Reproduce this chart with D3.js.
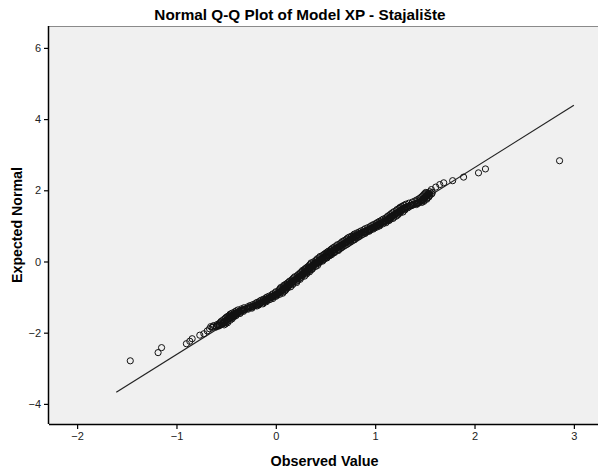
<!DOCTYPE html>
<html>
<head>
<meta charset="utf-8">
<script src="https://cdn.jsdelivr.net/npm/d3@7"></script>
<style>
  html, body { margin: 0; padding: 0; background: #fff; }
  svg { display: block; }
</style>
</head>
<body>
<svg id="chart" width="598" height="475"></svg>
<script>
// ---- Data ----
const chartTitle = "Normal Q-Q Plot of Model XP - Stajalište";
const xLabel = "Observed Value";
const yLabel = "Expected Normal";
const xTicks = [-2, -1, 0, 1, 2, 3];
const yTicks = [-4, -2, 0, 2, 4, 6];

// tail points (observed, expected)
const tailObserved = [-1.465, -1.185, -1.15, -0.90, -0.866, -0.842, -0.765, -0.724, -0.69, -0.667,
  1.566, 1.61, 1.65, 1.69, 1.78, 1.89, 2.04, 2.11, 2.856];
const tailExpected = [-2.79, -2.56, -2.42, -2.31, -2.24, -2.17, -2.07, -2.03, -1.95, -1.89,
  2.02, 2.09, 2.16, 2.21, 2.27, 2.37, 2.49, 2.60, 2.83];

// dense central band, group A
const observedA = [
  -0.64, -0.60, -0.57, -0.54, -0.53, -0.52, -0.50, -0.49, -0.47, -0.46,
  -0.44, -0.43, -0.41, -0.39, -0.37, -0.35, -0.32, -0.29, -0.26, -0.23,
  -0.20, -0.18, -0.16, -0.14, -0.12, -0.10, -0.08, -0.06, -0.04, -0.02,
  0.00, 0.02, 0.03, 0.05, 0.06, 0.07, 0.08, 0.10, 0.11, 0.13,
  0.14, 0.16, 0.17, 0.18, 0.20, 0.21, 0.22, 0.24, 0.25, 0.27,
  0.28, 0.29, 0.30, 0.32, 0.33, 0.34, 0.36, 0.37, 0.38, 0.39,
  0.41, 0.42, 0.44, 0.45, 0.47, 0.48, 0.50, 0.51, 0.53, 0.55,
  0.56, 0.58, 0.59, 0.61, 0.62, 0.64, 0.66, 0.67, 0.69, 0.71,
  0.72, 0.74, 0.755, 0.77, 0.79, 0.81, 0.83, 0.85, 0.87, 0.90,
  0.92, 0.94, 0.96, 0.98, 1.00, 1.02, 1.04, 1.06, 1.08, 1.10,
  1.12, 1.14, 1.15, 1.17, 1.18, 1.20, 1.21, 1.23, 1.24, 1.26,
  1.27, 1.29, 1.31, 1.34, 1.37, 1.40, 1.43, 1.45, 1.47, 1.48,
  1.49, 1.50, 1.51, 1.52, 1.53, 1.54, 1.55
];
const expectedA = [
  -1.85, -1.82, -1.79, -1.76, -1.73, -1.70, -1.66, -1.62, -1.59, -1.56,
  -1.53, -1.50, -1.47, -1.44, -1.41, -1.38, -1.35, -1.32, -1.29, -1.26,
  -1.23, -1.20, -1.17, -1.14, -1.11, -1.08, -1.05, -1.02, -0.99, -0.96,
  -0.93, -0.90, -0.87, -0.84, -0.81, -0.78, -0.75, -0.72, -0.69, -0.66,
  -0.63, -0.60, -0.57, -0.54, -0.51, -0.48, -0.45, -0.42, -0.39, -0.36,
  -0.33, -0.30, -0.27, -0.24, -0.21, -0.18, -0.15, -0.12, -0.09, -0.06,
  -0.03, 0.00, 0.03, 0.06, 0.09, 0.12, 0.15, 0.18, 0.21, 0.24,
  0.27, 0.30, 0.33, 0.36, 0.39, 0.42, 0.45, 0.48, 0.51, 0.54,
  0.57, 0.60, 0.63, 0.66, 0.69, 0.72, 0.75, 0.78, 0.81, 0.84,
  0.87, 0.90, 0.93, 0.96, 0.99, 1.02, 1.05, 1.08, 1.11, 1.14,
  1.17, 1.20, 1.23, 1.26, 1.29, 1.32, 1.35, 1.38, 1.41, 1.44,
  1.47, 1.50, 1.53, 1.56, 1.59, 1.62, 1.65, 1.68, 1.71, 1.74,
  1.77, 1.80, 1.83, 1.86, 1.89, 1.92, 1.96
];

// dense central band, group B
const observedB = [
  -0.60, -0.57, -0.52, -0.505, -0.485, -0.49, -0.46, -0.44, -0.445, -0.42,
  -0.40, -0.40, -0.36, -0.355, -0.325, -0.32, -0.28, -0.24, -0.235, -0.19,
  -0.17, -0.13, -0.125, -0.095, -0.09, -0.06, -0.03, -0.035, 0.00, 0.015,
  0.04, 0.07, 0.065, 0.09, 0.10, 0.10, 0.12, 0.15, 0.135, 0.17,
  0.17, 0.21, 0.205, 0.22, 0.245, 0.24, 0.26, 0.29, 0.275, 0.31,
  0.31, 0.34, 0.335, 0.36, 0.37, 0.37, 0.40, 0.42, 0.405, 0.43,
  0.44, 0.47, 0.475, 0.49, 0.515, 0.51, 0.54, 0.56, 0.555, 0.59,
  0.59, 0.63, 0.625, 0.65, 0.665, 0.67, 0.70, 0.72, 0.705, 0.75,
  0.75, 0.79, 0.79, 0.81, 0.835, 0.84, 0.87, 0.90, 0.895, 0.94,
  0.95, 0.98, 0.995, 1.02, 1.045, 1.05, 1.08, 1.11, 1.105, 1.14,
  1.15, 1.18, 1.185, 1.21, 1.225, 1.23, 1.25, 1.28, 1.265, 1.30,
  1.30, 1.33, 1.345, 1.37, 1.415, 1.43, 1.47, 1.49, 1.495, 1.52,
  1.52, 1.54, 1.545, 1.55, 1.57, 1.575
];
const expectedB = [
  -1.84, -1.81, -1.78, -1.75, -1.72, -1.69, -1.65, -1.61, -1.58, -1.55,
  -1.52, -1.49, -1.46, -1.43, -1.40, -1.37, -1.34, -1.31, -1.28, -1.25,
  -1.22, -1.19, -1.16, -1.13, -1.10, -1.07, -1.04, -1.01, -0.98, -0.95,
  -0.92, -0.89, -0.86, -0.83, -0.80, -0.77, -0.74, -0.71, -0.68, -0.65,
  -0.62, -0.59, -0.56, -0.53, -0.50, -0.47, -0.44, -0.41, -0.38, -0.35,
  -0.32, -0.29, -0.26, -0.23, -0.20, -0.17, -0.14, -0.11, -0.08, -0.05,
  -0.02, 0.01, 0.04, 0.07, 0.10, 0.13, 0.16, 0.19, 0.22, 0.25,
  0.28, 0.31, 0.34, 0.37, 0.40, 0.43, 0.46, 0.49, 0.52, 0.55,
  0.58, 0.61, 0.64, 0.67, 0.70, 0.73, 0.76, 0.79, 0.82, 0.85,
  0.88, 0.91, 0.94, 0.97, 1.00, 1.03, 1.06, 1.09, 1.12, 1.15,
  1.18, 1.21, 1.24, 1.27, 1.30, 1.33, 1.36, 1.39, 1.42, 1.45,
  1.48, 1.51, 1.54, 1.57, 1.60, 1.63, 1.66, 1.69, 1.72, 1.75,
  1.78, 1.81, 1.84, 1.87, 1.90, 1.94
];

// dense central band, group C
const observedC = [
  -0.655, -0.625, -0.59, -0.57, -0.555, -0.55, -0.53, -0.51, -0.50, -0.485,
  -0.465, -0.46, -0.44, -0.415, -0.40, -0.38, -0.345, -0.32, -0.28, -0.26,
  -0.23, -0.205, -0.19, -0.165, -0.15, -0.125, -0.10, -0.09, -0.065, -0.04,
  -0.03, -0.005, 0.00, 0.03, 0.035, 0.045, 0.05, 0.08, 0.08, 0.10,
  0.115, 0.13, 0.14, 0.16, 0.17, 0.18, 0.19, 0.215, 0.225, 0.24,
  0.25, 0.265, 0.27, 0.29, 0.30, 0.315, 0.33, 0.34, 0.35, 0.355,
  0.38, 0.40, 0.41, 0.42, 0.44, 0.445, 0.47, 0.485, 0.50, 0.515,
  0.53, 0.55, 0.56, 0.575, 0.59, 0.61, 0.62, 0.645, 0.66, 0.67,
  0.69, 0.71, 0.72, 0.735, 0.76, 0.78, 0.79, 0.815, 0.84, 0.86,
  0.885, 0.90, 0.925, 0.95, 0.965, 0.985, 1.01, 1.025, 1.045, 1.065,
  1.08, 1.105, 1.12, 1.13, 1.15, 1.16, 1.175, 1.19, 1.215, 1.22,
  1.24, 1.25, 1.27, 1.29, 1.31, 1.34, 1.375, 1.40, 1.42, 1.44,
  1.455, 1.47, 1.48, 1.49, 1.50, 1.51
];
const expectedC = [
  -1.83, -1.80, -1.77, -1.74, -1.71, -1.68, -1.64, -1.60, -1.57, -1.54,
  -1.51, -1.48, -1.45, -1.42, -1.39, -1.36, -1.33, -1.30, -1.27, -1.24,
  -1.21, -1.18, -1.15, -1.12, -1.09, -1.06, -1.03, -1.00, -0.97, -0.94,
  -0.91, -0.88, -0.85, -0.82, -0.79, -0.76, -0.73, -0.70, -0.67, -0.64,
  -0.61, -0.58, -0.55, -0.52, -0.49, -0.46, -0.43, -0.40, -0.37, -0.34,
  -0.31, -0.28, -0.25, -0.22, -0.19, -0.16, -0.13, -0.10, -0.07, -0.04,
  -0.01, 0.02, 0.05, 0.08, 0.11, 0.14, 0.17, 0.20, 0.23, 0.26,
  0.29, 0.32, 0.35, 0.38, 0.41, 0.44, 0.47, 0.50, 0.53, 0.56,
  0.59, 0.62, 0.65, 0.68, 0.71, 0.74, 0.77, 0.80, 0.83, 0.86,
  0.89, 0.92, 0.95, 0.98, 1.01, 1.04, 1.07, 1.10, 1.13, 1.16,
  1.19, 1.22, 1.25, 1.28, 1.31, 1.34, 1.37, 1.40, 1.43, 1.46,
  1.49, 1.52, 1.55, 1.58, 1.61, 1.64, 1.67, 1.70, 1.73, 1.76,
  1.79, 1.82, 1.85, 1.88, 1.91, 1.94
];

// dense central band, group D as [observed, expected] pairs
const bandD = [
  [-0.63, -1.835], [-0.585, -1.805], [-0.565, -1.775], [-0.535, -1.745], [-0.515, -1.715],
  [-0.51, -1.685], [-0.49, -1.645], [-0.475, -1.605], [-0.465, -1.575], [-0.445, -1.545],
  [-0.43, -1.515], [-0.415, -1.485], [-0.40, -1.455], [-0.38, -1.425], [-0.355, -1.395],
  [-0.335, -1.365], [-0.31, -1.335], [-0.275, -1.305], [-0.25, -1.275], [-0.215, -1.245],
  [-0.195, -1.215], [-0.165, -1.185], [-0.15, -1.155], [-0.125, -1.125], [-0.11, -1.095],
  [-0.085, -1.065], [-0.07, -1.035], [-0.045, -1.005], [-0.03, -0.975], [-0.005, -0.945],
  [0.01, -0.915], [0.03, -0.885], [0.045, -0.855], [0.055, -0.825], [0.07, -0.795],
  [0.085, -0.765], [0.09, -0.735], [0.11, -0.705], [0.125, -0.675], [0.135, -0.645],
  [0.155, -0.615], [0.165, -0.585], [0.18, -0.555], [0.19, -0.525], [0.205, -0.495],
  [0.22, -0.465], [0.23, -0.435], [0.245, -0.405], [0.26, -0.375], [0.275, -0.345],
  [0.29, -0.315], [0.295, -0.285], [0.315, -0.255], [0.325, -0.225], [0.335, -0.195],
  [0.35, -0.165], [0.365, -0.135], [0.375, -0.105], [0.385, -0.075], [0.40, -0.045],
  [0.415, -0.015], [0.43, 0.015], [0.44, 0.045], [0.46, 0.075], [0.475, 0.105],
  [0.49, 0.135], [0.505, 0.165], [0.52, 0.195], [0.54, 0.225], [0.55, 0.255],
  [0.57, 0.285], [0.585, 0.315], [0.60, 0.345], [0.615, 0.375], [0.63, 0.405],
  [0.65, 0.435], [0.66, 0.465], [0.68, 0.495], [0.70, 0.525], [0.715, 0.555],
  [0.73, 0.585], [0.745, 0.615], [0.765, 0.645], [0.78, 0.675], [0.80, 0.705],
  [0.82, 0.735], [0.84, 0.765], [0.86, 0.795], [0.885, 0.825], [0.905, 0.855],
  [0.93, 0.885], [0.95, 0.915], [0.97, 0.945], [0.99, 0.975], [1.01, 1.005],
  [1.03, 1.035], [1.05, 1.065], [1.07, 1.095], [1.09, 1.125], [1.11, 1.155],
  [1.13, 1.185], [1.145, 1.215], [1.16, 1.245], [1.175, 1.275], [1.19, 1.305],
  [1.205, 1.335], [1.22, 1.365], [1.235, 1.395], [1.25, 1.425], [1.265, 1.455],
  [1.28, 1.485], [1.30, 1.515], [1.325, 1.545], [1.355, 1.575], [1.385, 1.605],
  [1.415, 1.635], [1.44, 1.665], [1.46, 1.695], [1.475, 1.725], [1.485, 1.755],
  [1.495, 1.785], [1.505, 1.815], [1.515, 1.845], [1.525, 1.875], [1.535, 1.905]
];

// reference line endpoints
const refLineX = [-1.606, 3.0];
const refLineY = [-3.675, 4.386];

// axis domains
const xDomain = [-2.283, 3.263];
const yDomain = [-4.565, 6.615];

// ---- Layout ----
const svg = d3.select("#chart");
const plot = { left: 49, top: 26, right: 600, bottom: 424 };

const x = d3.scaleLinear().domain(xDomain).range([plot.left, plot.right]);
const y = d3.scaleLinear().domain(yDomain).range([plot.bottom, plot.top]);

const fontFamily = "Arial, 'Liberation Sans', Helvetica, sans-serif";

// plot background
svg.append("rect")
  .attr("x", plot.left).attr("y", plot.top)
  .attr("width", plot.right - plot.left)
  .attr("height", plot.bottom - plot.top)
  .attr("fill", "#f0f0f0");

// top border
svg.append("line")
  .attr("x1", plot.left).attr("x2", plot.right)
  .attr("y1", plot.top + 0.5).attr("y2", plot.top + 0.5)
  .attr("stroke", "#8a8a8a").attr("stroke-width", 1);

// reference line
svg.append("line")
  .attr("x1", x(refLineX[0])).attr("y1", y(refLineY[0]))
  .attr("x2", x(refLineX[1])).attr("y2", y(refLineY[1]))
  .attr("stroke", "#222").attr("stroke-width", 1.2);

// points
function pairs(ox, ey) {
  const n = Math.min(ox.length, ey.length);
  const out = [];
  for (let i = 0; i < n; i++) out.push({ ox: ox[i], ey: ey[i] });
  return out;
}
const pts = [].concat(
  pairs(tailObserved, tailExpected),
  pairs(observedA, expectedA),
  pairs(observedB, expectedB),
  pairs(observedC, expectedC),
  bandD.map(p => ({ ox: p[0], ey: p[1] }))
);
svg.append("g").selectAll("circle").data(pts).join("circle")
  .attr("cx", d => x(d.ox))
  .attr("cy", d => y(d.ey))
  .attr("r", 3.1)
  .attr("fill", "none")
  .attr("stroke", "#111")
  .attr("stroke-width", 1);

// axes
const xAxis = d3.axisBottom(x).tickValues(xTicks).tickSize(5).tickPadding(3)
  .tickFormat(d3.format("d"));
const yAxis = d3.axisLeft(y).tickValues(yTicks).tickSize(5).tickPadding(3)
  .tickFormat(d3.format("d"));

const gx = svg.append("g").attr("transform", `translate(0,${plot.bottom})`).call(xAxis);
const gy = svg.append("g").attr("transform", `translate(${plot.left},0)`).call(yAxis);

[gx, gy].forEach(g => {
  g.select(".domain").attr("stroke", "#000").attr("stroke-width", 1.5);
  g.selectAll(".tick line").attr("stroke", "#000").attr("stroke-width", 1.2);
  g.selectAll(".tick text")
    .attr("fill", "#222")
    .style("font-family", fontFamily)
    .style("font-size", "11px");
});
gx.select(".domain").attr("d", `M${plot.left},0.5H${plot.right}`);
gy.select(".domain").attr("d", `M-0.5,${plot.top}V${plot.bottom}`);

// title
svg.append("text")
  .attr("x", 300).attr("y", 20)
  .attr("text-anchor", "middle")
  .style("font-family", fontFamily)
  .style("font-size", "15.3px")
  .style("font-weight", "bold")
  .attr("fill", "#000")
  .text(chartTitle);

// x label
svg.append("text")
  .attr("x", (plot.left + plot.right) / 2).attr("y", 466)
  .attr("text-anchor", "middle")
  .style("font-family", fontFamily)
  .style("font-size", "14.4px")
  .style("font-weight", "bold")
  .attr("fill", "#000")
  .text(xLabel);

// y label
svg.append("text")
  .attr("transform", `translate(21.5,${(plot.top + plot.bottom) / 2}) rotate(-90)`)
  .attr("text-anchor", "middle")
  .style("font-family", fontFamily)
  .style("font-size", "14.2px")
  .style("font-weight", "bold")
  .attr("fill", "#000")
  .text(yLabel);
</script>
</body>
</html>
